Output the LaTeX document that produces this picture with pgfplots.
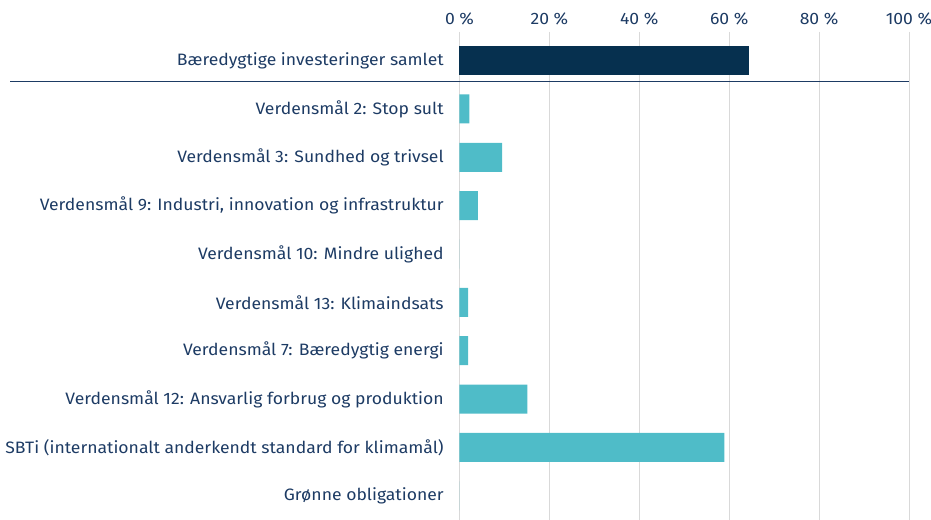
\documentclass[border=0pt]{standalone}
\usepackage{pgfplots}
\pgfplotsset{compat=1.18}
\usepackage{fontspec}
\setmainfont{Fira Sans}[FakeStretch=1.065]
\definecolor{navy}{HTML}{06304F}
\definecolor{teal}{HTML}{4FBCC8}
\definecolor{txt}{HTML}{1D3B64}
\definecolor{gridc}{HTML}{D9D9D9}
\begin{document}
\begin{tikzpicture}
\begin{axis}[
  scale only axis,
  width=449.5pt, height=488pt,
  xmin=0, xmax=100,
  ymin=-0.59, ymax=9.5,
  y dir=reverse,
  axis line style={draw=none},
  xtick={0,20,40,60,80,100},
  xticklabel={\pgfmathprintnumber{\tick}~\%},
  xticklabel pos=top,
  xtick style={draw=none},
  ytick style={draw=none},
  /pgf/number format/assume math mode=true,
  xmajorgrids,
  major grid style={gridc, line width=0.8pt},
  ytick={0,1,2,3,4,5,6,7,8,9},
  yticklabels={Bæredygtige investeringer samlet,
    Verdensmål 2: Stop sult,
    Verdensmål 3: Sundhed og trivsel,
    {Verdensmål 9: Industri, innovation og infrastruktur},
    Verdensmål 10: Mindre ulighed,
    Verdensmål 13: Klimaindsats,
    Verdensmål 7: Bæredygtig energi,
    Verdensmål 12: Ansvarlig forbrug og produktion,
    SBTi (internationalt anderkendt standard for klimamål),
    Grønne obligationer},
  ticklabel style={font=\fontsize{16.5}{19}\selectfont, text=txt},
  yticklabel style={xshift=-8pt},
  xticklabel style={yshift=3pt},
  xbar, bar width=0.6, bar shift=0pt,
  clip=false,
]
\addplot[fill=navy, draw=none] coordinates {(64.3,0)};
\addplot[fill=teal, draw=none] coordinates {
  (2.2,1) (9.5,2) (4.1,3) (0,4) (1.9,5) (1.9,6) (15.1,7) (58.9,8) (0,9)};
\draw[txt, line width=0.9pt] (axis cs:-99.9,0.435) -- (axis cs:100,0.435);
\coordinate (TL) at (rel axis cs:0,1);
\coordinate (BR) at (rel axis cs:1,0);
\end{axis}
\pgfresetboundingbox
\path[use as bounding box] ([xshift=-459.5pt,yshift=32pt]TL) rectangle ([xshift=22pt]BR);
\end{tikzpicture}
\end{document}
